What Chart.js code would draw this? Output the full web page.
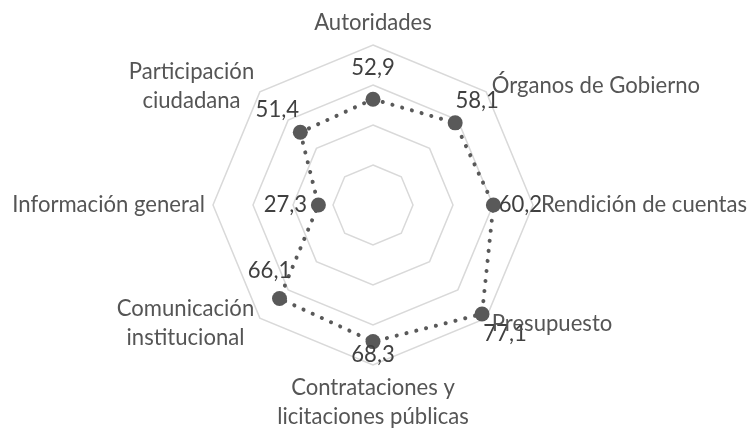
<!DOCTYPE html>
<html lang="es">
<head>
<meta charset="utf-8">
<title>Radar</title>
<script src="https://cdn.jsdelivr.net/npm/chart.js@4/dist/chart.umd.min.js"></script>
<style>
  html, body { margin: 0; padding: 0; background: #ffffff; }
  #wrap { width: 750px; height: 428px; position: relative; }
</style>
</head>
<body>
<div id="wrap"><canvas id="radarChart"></canvas></div>
<script>
"use strict";

// Ejes del radar (en orden horario desde arriba)
const categories = [
  ["Autoridades"],
  ["Órganos de Gobierno"],
  ["Rendición de cuentas"],
  ["Presupuesto"],
  ["Contrataciones y", "licitaciones públicas"],
  ["Comunicación", "institucional"],
  ["Información general"],
  ["Participación", "ciudadana"]
];

// Puntaje por eje
const scores = [52.9, 58.1, 60.2, 77.1, 68.3, 66.1, 27.3, 51.4];

// Escala
const scaleMin = 0;
const scaleMax = 80;
const scaleStep = 20;

const FONT = "Lato";
const FONT_SIZE = 22.1;

// Desplazamiento de cada etiqueta de valor respecto a su punto
const valueLabelOffsets = [
  [0, -31], [22, -22], [27, 0], [23, 20],
  [0, 13], [-10, -28], [-33, 0], [-23, -22]
];

/**
 * Dibuja los nombres de los ejes alrededor del octágono exterior.
 * Las etiquetas de varias líneas se centran dentro de su bloque.
 */
const axisLabels = {
  id: "axisLabels",
  afterDraw(chart) {
    const scale = chart.scales.r;
    const ctx = chart.ctx;
    const lineH = 29;
    ctx.save();
    ctx.font = FONT_SIZE + "px " + FONT;
    ctx.fillStyle = "#555555";
    ctx.textAlign = "center";
    ctx.textBaseline = "middle";
    categories.forEach((lines, i) => {
      const pos = scale.getPointPosition(i, scale.drawingArea + 8);
      const a = scale.getIndexAngle(i) - Math.PI / 2;
      const c = Math.cos(a);
      const s = Math.sin(a);
      const w = Math.max(...lines.map(t => ctx.measureText(t).width));
      let cx = pos.x;
      if (c > 0.1) cx = pos.x + w / 2;
      else if (c < -0.1) cx = pos.x - w / 2;
      let top;
      if (s < -0.9) {
        top = pos.y - lines.length * lineH;
      } else if (s > 0.9) {
        top = pos.y;
      } else {
        top = pos.y - lines.length * lineH / 2;
      }
      lines.forEach((t, k) => {
        ctx.fillText(t, cx, top + lineH * (k + 0.5));
      });
    });
    ctx.restore();
  }
};

/**
 * Dibuja el valor de cada punto con coma decimal.
 */
const valueLabels = {
  id: "valueLabels",
  afterDatasetsDraw(chart) {
    const ctx = chart.ctx;
    const meta = chart.getDatasetMeta(0);
    ctx.save();
    ctx.font = FONT_SIZE + "px " + FONT;
    ctx.fillStyle = "#404040";
    ctx.textAlign = "center";
    ctx.textBaseline = "middle";
    meta.data.forEach((pt, i) => {
      const off = valueLabelOffsets[i];
      const txt = scores[i].toFixed(1).replace(".", ",");
      ctx.fillText(txt, pt.x + off[0], pt.y + off[1]);
    });
    ctx.restore();
  }
};

new Chart(document.getElementById("radarChart"), {
  type: "radar",
  data: {
    labels: categories,
    datasets: [{
      data: scores,
      fill: false,
      borderColor: "#595959",
      borderWidth: 4,
      borderDash: [0.1, 10],
      borderCapStyle: "round",
      tension: 0,
      pointRadius: 7.5,
      pointHoverRadius: 7.5,
      pointBackgroundColor: "#595959",
      pointBorderWidth: 0
    }]
  },
  options: {
    responsive: true,
    maintainAspectRatio: false,
    animation: false,
    layout: {
      padding: { left: 213, right: 217, top: 45, bottom: 63 }
    },
    plugins: {
      legend: { display: false },
      tooltip: { enabled: false }
    },
    scales: {
      r: {
        min: scaleMin,
        max: scaleMax,
        ticks: { stepSize: scaleStep, display: false },
        grid: { color: "#d9d9d9", lineWidth: 1.5, circular: false },
        angleLines: { display: false },
        pointLabels: { display: false }
      }
    }
  },
  plugins: [axisLabels, valueLabels]
});
</script>
</body>
</html>
